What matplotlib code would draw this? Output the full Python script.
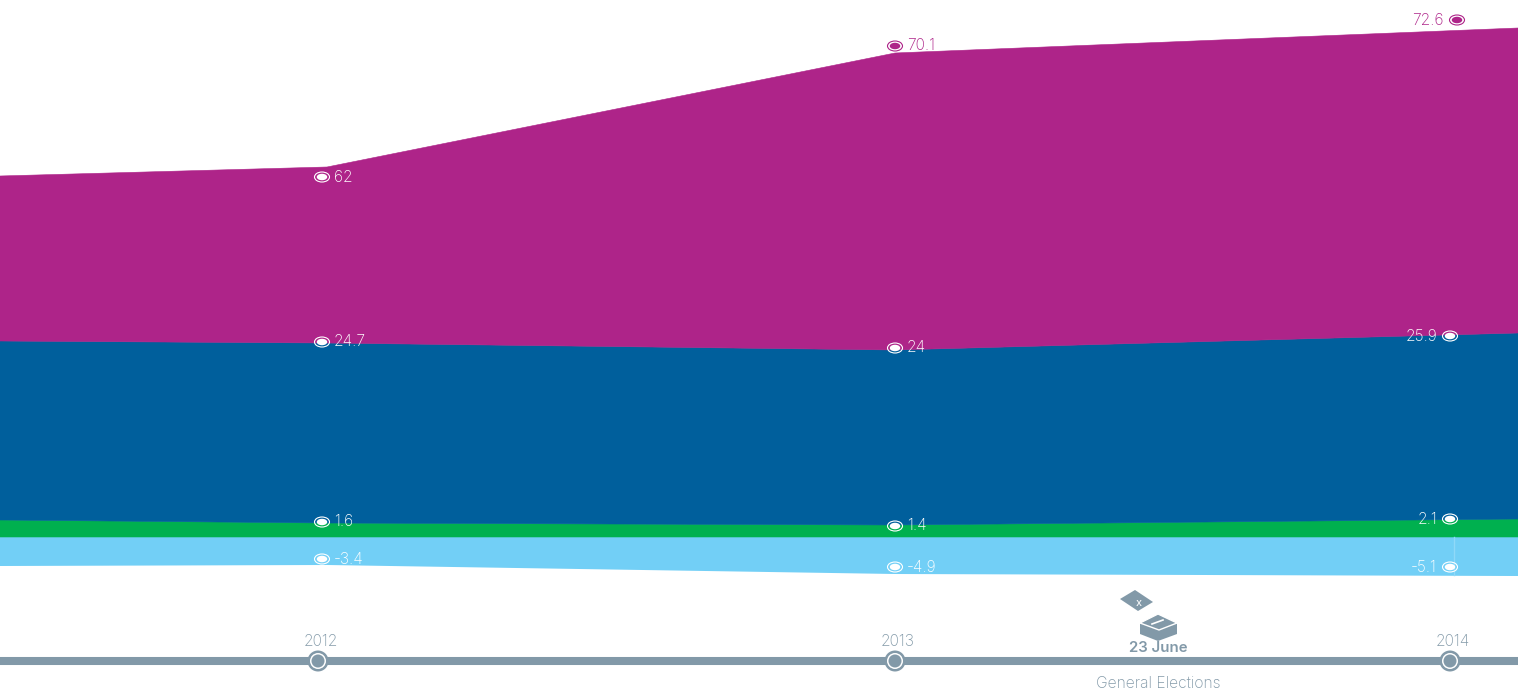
import matplotlib
matplotlib.use("Agg")
import matplotlib.pyplot as plt
import numpy as np
from matplotlib.patches import Ellipse, Polygon, Circle

# band thickness as drawn in the picture, read at the four kinks
band_x = [0, 327, 895, 1518]
light_blue = [-29, -28, -37, -39]
green = [17, 14, 12, 18]
blue = [179, 180, 175, 186]
magenta = [165, 176, 297, 305]

years = ["2012", "2013", "2014"]
year_x = [318, 895, 1450]

# labels as shown, and the height of each little marker
magenta_labels = ["62", "70.1", "72.6"]
blue_labels = ["24.7", "24", "25.9"]
green_labels = ["1.6", "1.4", "2.1"]
light_labels = ["-3.4", "-4.9", "-5.1"]
magenta_marks = [360, 491, 517]
blue_marks = [195, 189, 201]
green_marks = [15, 11, 18]
light_marks = [-22, -30, -30]
label_x = [322, 895, 1450]

C_MAGENTA = "#ae2489"
C_BLUE = "#005f9c"
C_GREEN = "#00b04f"
C_LIGHT = "#72cff6"
C_AXIS = "#8299a8"

plt.rcParams["font.family"] = ["Inter", "DejaVu Sans"]

fig = plt.figure(figsize=(15.18, 6.9), dpi=100)
ax = fig.add_axes([0, 0, 1, 1])
ax.set_xlim(0, 1518)
ax.set_ylim(-153, 537)
ax.axis("off")

ax.fill_between(band_x, 0, light_blue, color=C_LIGHT, lw=0)
polys = ax.stackplot(band_x, green, blue, magenta, colors=[C_GREEN, C_BLUE, C_MAGENTA])
for poly in polys:
    poly.set_edgecolor("face")
    poly.set_linewidth(0.4)
ax.plot([1454, 1454], [0, -38], color="#8fd9f8", lw=1)


def eye(x, y, colour, back):
    ax.add_patch(Ellipse((x, y), 15, 10, fc=back, ec=colour, lw=0.8, zorder=4))
    ax.add_patch(Ellipse((x, y), 10.5, 6.5, fc=colour, ec="none", zorder=5))


rows = [
    (magenta_labels, magenta_marks),
    (blue_labels, blue_marks),
    (green_labels, green_marks),
    (light_labels, light_marks),
]
for labels, marks in rows:
    for i in range(3):
        x = label_x[i]
        y = marks[i]
        colour = "white"
        back = "none"
        if labels is magenta_labels and i > 0:
            colour = C_MAGENTA
        if labels is magenta_labels and i == 2:
            x = x + 7
        if colour == C_MAGENTA:
            back = "white"
        eye(x, y, colour, back)
        if i < 2:
            ax.text(x + 12, y, labels[i], color=colour, fontsize=11.2,
                    fontweight="light", ha="left", va="center", zorder=6)
        else:
            ax.text(x - 13, y - 0.5, labels[i], color=colour, fontsize=11.2,
                    fontweight="light", ha="right", va="center", zorder=6)

# timeline along the bottom
ax.plot([0, 1518], [-124, -124], color=C_AXIS, lw=5.8, solid_capstyle="butt")
for x, year in zip(year_x, years):
    ax.add_patch(Circle((x, -124), 10.5, fc=C_AXIS, ec="none", zorder=3))
    ax.add_patch(Circle((x, -124), 8, fc="white", ec="none", zorder=4))
    ax.add_patch(Circle((x, -124), 6.5, fc=C_AXIS, ec="none", zorder=5))
    ax.text(x + 3, -104.5, year, color=C_AXIS, fontsize=11.2, fontweight="light",
            ha="center", va="center")

ax.text(1158.5, -110.5, "23 June", color=C_AXIS, fontsize=10.8, fontweight="semibold",
        ha="center", va="center")
ax.text(1158.5, -146.5, "General Elections", color=C_AXIS, fontsize=11.3,
        fontweight="light", ha="center", va="center")

# ballot box icon
ax.add_patch(Polygon([(1120, -62), (1135, -53), (1153, -65), (1138, -74)], fc=C_AXIS, ec="none"))
ax.text(1139, -66.5, "x", color="white", fontsize=8, ha="center", va="center")
ax.add_patch(Polygon([(1140, -87), (1158, -78), (1177, -87), (1177, -97), (1158, -104), (1140, -97)],
                     fc=C_AXIS, ec="none"))
ax.add_patch(Polygon([(1140, -86), (1158, -77), (1177, -86), (1159, -93)], fc=C_AXIS, ec="white", lw=1))
ax.plot([1152, 1163], [-87, -83], color="white", lw=1.2)

fig.savefig("out.png", dpi=100, facecolor="white")
